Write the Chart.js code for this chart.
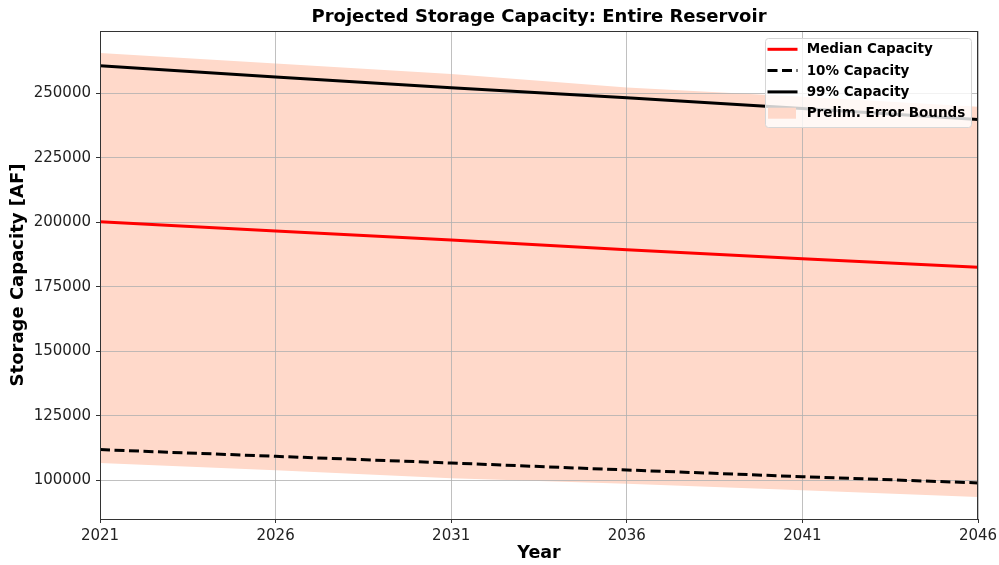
<!DOCTYPE html>
<html>
<head>
<meta charset="utf-8">
<script src="https://cdn.jsdelivr.net/npm/chart.js@4"></script>
<style>
html,body{margin:0;padding:0;background:#fff;}
canvas{display:block;}
</style>
</head>
<body>
<canvas id="c" width="999" height="565"></canvas>
<script>
// ---- data ----
const years = [2021, 2026, 2031, 2036, 2041, 2046];
const medianCapacity = [200200, 196700, 193200, 189400, 185900, 182600];
const capacity10 = [111900, 109300, 106700, 104000, 101400, 99000];
const capacity99 = [260700, 256400, 252200, 248300, 244200, 239900];
const upperBound = [265700, 261600, 257500, 252300, 248700, 244800];
const lowerBound = [106700, 103900, 100800, 98700, 96100, 93500];
const yTickValues = [100000, 125000, 150000, 175000, 200000, 225000, 250000];
const xTickValues = [2021, 2026, 2031, 2036, 2041, 2046];

const toXY = (arr) => arr.map((v, i) => ({x: years[i], y: v}));
const FONT = "'DejaVu Sans', 'Liberation Sans', sans-serif";

const framePlugin = {
  id: 'frame',
  afterDatasetsDraw(chart) {
    const {ctx, chartArea: a} = chart;
    ctx.save();
    ctx.strokeStyle = '#333';
    ctx.lineWidth = 1;
    ctx.strokeRect(Math.round(a.left) + 0.5, Math.round(a.top) + 0.5,
                   Math.round(a.right - a.left) - 1, Math.round(a.bottom - a.top));
    ctx.restore();
  }
};

const insideLegend = {
  id: 'insideLegend',
  afterDatasetsDraw(chart) {
    const {ctx, chartArea: a} = chart;
    const items = chart.data.datasets.filter(d => d.label);
    const w = 206, rowH = 21.3;
    const h = 89;
    const x0 = a.right - 7 - w, y0 = a.top + 7;
    ctx.save();
    ctx.beginPath();
    if (ctx.roundRect) ctx.roundRect(x0 + 0.5, y0 + 0.5, w, h, 3); else ctx.rect(x0 + 0.5, y0 + 0.5, w, h);
    ctx.fillStyle = 'rgba(255,255,255,0.8)';
    ctx.fill();
    ctx.strokeStyle = '#d6d6d6';
    ctx.lineWidth = 1;
    ctx.stroke();
    ctx.font = "bold 13.5px " + FONT;
    ctx.textBaseline = 'middle';
    ctx.textAlign = 'left';
    items.forEach((d, i) => {
      const cy = y0 + 11.3 + i * rowH;
      if (d.fill) {
        ctx.fillStyle = d.backgroundColor;
        ctx.fillRect(x0 + 3, cy - 5.5, 28, 11);
      } else {
        ctx.beginPath();
        ctx.setLineDash(d.borderDash || []);
        ctx.strokeStyle = d.borderColor;
        ctx.lineWidth = d.borderWidth;
        ctx.moveTo(x0 + 2.5, cy);
        ctx.lineTo(x0 + 32.5, cy);
        ctx.stroke();
        ctx.setLineDash([]);
      }
      ctx.fillStyle = '#000';
      ctx.fillText(d.label, x0 + 41.7, cy + 0.5);
    });
    ctx.restore();
  }
};

new Chart(document.getElementById('c'), {
  type: 'line',
  data: {
    datasets: [
      {label: 'Median Capacity', data: toXY(medianCapacity), borderColor: '#ff0000', borderWidth: 3, pointRadius: 0, fill: false, order: 1},
      {label: '10% Capacity', data: toXY(capacity10), borderColor: '#000000', borderWidth: 3, borderDash: [10, 4.5], pointRadius: 0, fill: false, order: 2},
      {label: '99% Capacity', data: toXY(capacity99), borderColor: '#000000', borderWidth: 3, pointRadius: 0, fill: false, order: 3},
      {label: 'Prelim. Error Bounds', data: toXY(upperBound), borderWidth: 0, borderColor: 'rgba(0,0,0,0)', backgroundColor: '#ffd9ca', pointRadius: 0, fill: '+1', order: 4},
      {label: '', data: toXY(lowerBound), borderWidth: 0, borderColor: 'rgba(0,0,0,0)', backgroundColor: '#ffd9ca', pointRadius: 0, fill: false, order: 5}
    ]
  },
  options: {
    responsive: false,
    animation: false,
    devicePixelRatio: 1,
    layout: {padding: {left: 0, right: 21, top: 0, bottom: 0}},
    plugins: {
      legend: {display: false},
      tooltip: {enabled: false},
      filler: {drawTime: 'beforeDraw'},
      title: {
        display: true,
        fullSize: false,
        text: 'Projected Storage Capacity: Entire Reservoir',
        color: '#000',
        font: {family: FONT, size: 18, weight: 'bold', lineHeight: 1.2},
        padding: {top: 6.5, bottom: 2.9}
      }
    },
    scales: {
      x: {
        type: 'linear',
        min: 2021, max: 2046,
        afterBuildTicks: (s) => { s.ticks = xTickValues.map(v => ({value: v})); },
        afterFit: (s) => { s.height = 46; s.paddingLeft = 0; s.paddingRight = 0; },
        ticks: {
          color: '#222',
          font: {family: FONT, size: 15},
          padding: 4,
          maxRotation: 0,
          autoSkip: false,
          callback: (v) => String(v)
        },
        grid: {color: '#b0b0b0', lineWidth: 0.8, tickLength: 4, tickColor: '#333', tickWidth: 1, drawTicks: true},
        border: {display: false},
        title: {display: true, text: 'Year', color: '#000', font: {family: FONT, size: 17.5, weight: 'bold', lineHeight: 1.2}, padding: {top: 0, bottom: 1.5}}
      },
      y: {
        type: 'linear',
        min: 85000, max: 274200,
        afterBuildTicks: (s) => { s.ticks = yTickValues.map(v => ({value: v})); },
        afterFit: (s) => { s.width = 100; s.paddingTop = 0; s.paddingBottom = 0; },
        ticks: {
          color: '#222',
          font: {family: FONT, size: 15},
          padding: 5,
          autoSkip: false,
          callback: (v) => String(v)
        },
        grid: {color: '#b0b0b0', lineWidth: 0.8, tickLength: 4, tickColor: '#333', tickWidth: 1, drawTicks: true},
        border: {display: false},
        title: {display: true, text: 'Storage Capacity [AF]', color: '#000', font: {family: FONT, size: 18, weight: 'bold', lineHeight: 1.2}, padding: {top: 7.5, bottom: 0}}
      }
    }
  },
  plugins: [framePlugin, insideLegend]
});
</script>
</body>
</html>
